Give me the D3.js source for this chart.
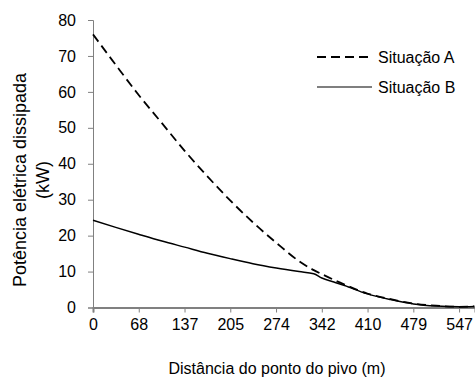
<!DOCTYPE html>
<html>
<head>
<meta charset="utf-8">
<script src="https://cdn.jsdelivr.net/npm/d3@7"></script>
<style>
  body { margin: 0; background: #fff; }
  text { font-family: "Liberation Sans", Arial, sans-serif; fill: #000; }
</style>
</head>
<body>
<div id="chart"></div>
<script>
// distance from the pivot point (m)
var distancia = [0, 34, 68, 103, 137, 171, 205, 239, 274, 308, 330, 342, 360, 376, 410, 445, 479, 513, 547, 570];
// dissipated power (kW)
var situacaoA = [76, 67.5, 59.2, 51.3, 43.6, 36.5, 29.8, 23.7, 18.0, 12.9, 10.4, 9.3, 7.7, 6.4, 3.9, 2.3, 1.1, 0.5, 0.2, 0.3];
var situacaoB = [24.3, 22.3, 20.4, 18.5, 16.8, 15.1, 13.6, 12.2, 11.0, 10.0, 9.4, 8.2, 7.1, 6.1, 3.8, 2.2, 1.0, 0.4, 0.2, 0.3];

var xTickValues = [0, 68.4, 136.8, 205.2, 273.6, 342, 410.4, 478.8, 547.2];
var xTickLabels = ["0", "68", "137", "205", "274", "342", "410", "479", "547"];
var yTickValues = [0, 10, 20, 30, 40, 50, 60, 70, 80];
var seriesNames = ["Situação A", "Situação B"];

var total_width = 475, total_height = 381;
var margin = {top: 20, right: 0, bottom: 73.5, left: 93};
var width = total_width - margin.left - margin.right,
    height = total_height - margin.top - margin.bottom;

var svg = d3.select("#chart").append("svg")
    .attr("width", total_width)
    .attr("height", total_height);

var g = svg.append("g")
    .attr("transform", "translate(" + margin.left + "," + margin.top + ")");

var x = d3.scaleLinear().domain([0, 571]).range([0, width]);
var y = d3.scaleLinear().domain([0, 80]).range([height, 0]);

// Y axis
var yAxis = g.append("g")
    .call(d3.axisLeft(y).tickValues(yTickValues).tickSize(5).tickPadding(12));
yAxis.selectAll("path, line").attr("stroke", "#808080");
yAxis.selectAll("text").style("font-size", "16px");

// X axis
var xAxis = g.append("g")
    .attr("transform", "translate(0," + height + ")")
    .call(d3.axisBottom(x).tickValues(xTickValues)
      .tickFormat(function(d, i) { return xTickLabels[i]; })
      .tickSize(5).tickPadding(6));
xAxis.select("path").attr("stroke", "#808080").attr("stroke-width", 2);
xAxis.selectAll("line").attr("stroke", "#808080");
xAxis.selectAll("text").style("font-size", "16px");

// Axis titles
svg.append("text")
    .attr("x", 277)
    .attr("y", 374)
    .attr("text-anchor", "middle")
    .style("font-size", "16px")
    .text("Distância do ponto do pivo (m)");

var yTitle = svg.append("text")
    .attr("transform", "translate(26,180) rotate(-90)")
    .attr("text-anchor", "middle")
    .style("font-size", "18px");
yTitle.append("tspan").attr("x", 0).attr("dy", 0).text("Potência elétrica dissipada");
yTitle.append("tspan").attr("x", 0).attr("dy", "1.25em").text("(kW)");

// Lines
var line = function(vals) {
  return d3.line()
    .x(function(d, i) { return x(distancia[i]); })
    .y(function(d) { return y(d); })
    .curve(d3.curveMonotoneX)(vals);
};

g.append("path")
    .attr("d", line(situacaoB))
    .attr("fill", "none")
    .attr("stroke", "#000")
    .attr("stroke-width", 1.5);

g.append("path")
    .attr("d", line(situacaoA))
    .attr("fill", "none")
    .attr("stroke", "#000")
    .attr("stroke-width", 1.8)
    .attr("stroke-dasharray", "9,5");

// Legend
var legend = svg.append("g").attr("transform", "translate(317,57)");
var dashes = ["9,5", null];
seriesNames.forEach(function(name, i) {
  var row = legend.append("g").attr("transform", "translate(0," + (i * 30) + ")");
  row.append("line")
      .attr("x1", 0).attr("x2", 55)
      .attr("stroke", "#000")
      .attr("stroke-width", i == 0 ? 1.8 : 1.2)
      .attr("stroke-dasharray", dashes[i]);
  row.append("text")
      .attr("x", 61)
      .attr("dy", "0.35em")
      .style("font-size", "16px")
      .text(name);
});
</script>
</body>
</html>
